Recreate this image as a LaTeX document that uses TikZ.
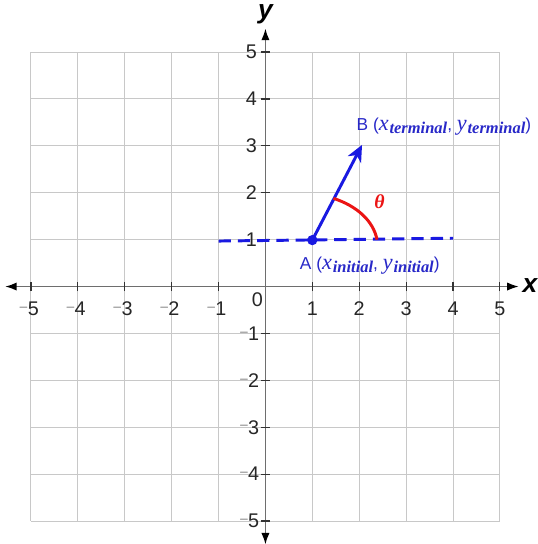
\documentclass[tikz,border=0pt]{standalone}
\usepackage{fontspec}
\setmainfont{Liberation Sans}
\newfontfamily\mathserif{Liberation Serif}
\usetikzlibrary{arrows.meta}
\definecolor{gridgray}{RGB}{200,200,200}
\definecolor{axisgray}{RGB}{110,110,110}
\definecolor{vecblue}{RGB}{25,25,225}
\definecolor{lblblue}{RGB}{40,40,200}
\definecolor{angred}{RGB}{235,20,20}
\tikzset{
  gridline/.style={gridgray, line width=0.6pt},
  axisline/.style={axisgray, line width=0.9pt, {Latex[length=7pt,width=5pt,black]}-{Latex[length=7pt,width=5pt,black]}},
  ticklbl/.style={font=\fontsize{12}{12}\selectfont, text=black!85, inner sep=1pt},
  vecline/.style={vecblue, line width=1.8pt},
  ptlbl/.style={font=\fontsize{10.5}{10.5}\selectfont, text=lblblue, inner sep=0pt, anchor=west},
}
\newcommand{\neglbl}[1]{\raisebox{0.5ex}{\fontsize{7}{7}\selectfont\ensuremath{-}}\kern-0.05em#1}
\newcommand{\vsub}[2]{{\mathserif\itshape\fontsize{13.5}{13.5}\selectfont #1}\kern0.05em{\mathserif\bfseries\itshape\fontsize{10}{10}\selectfont\raisebox{-0.35ex}{#2}}}
\begin{document}
\begin{tikzpicture}
\useasboundingbox (-5.66,-5.49) rectangle (5.81,6.11);
% grid
\foreach \i in {-5,...,5} {
  \draw[gridline] (\i,-5) -- (\i,5);
  \draw[gridline] (-5,\i) -- (5,\i);
}
% axes
\coordinate (xl) at (-5.55,0);
\coordinate (xr) at (5.4,0);
\coordinate (yb) at (0,-5.5);
\coordinate (yt) at (0,5.5);
\draw[axisline] (xl) -- (xr);
\draw[axisline] (yb) -- (yt);
\node[font=\bfseries\itshape\fontsize{16}{16}\selectfont] (xlab) at (5.64,0.02) {x};
\node[font=\bfseries\itshape\fontsize{16}{16}\selectfont] (ylab) at (0,5.8) {y};
% ticks and labels
\foreach \i in {1,...,5} {
  \draw[black!80, line width=0.7pt] (\i,-0.1) -- (\i,0.1);
  \draw[black!80, line width=0.7pt] (-\i,-0.1) -- (-\i,0.1);
  \draw[black!80, line width=0.7pt] (-0.1,\i) -- (0.1,\i);
  \draw[black!80, line width=0.7pt] (-0.1,-\i) -- (0.1,-\i);
  \node[ticklbl] at (\i,-0.47) {\i};
  \node[ticklbl] at (-\i-0.05,-0.47) {\neglbl{\i}};
  \node[ticklbl] at (-0.3,\i) {\i};
  \node[ticklbl] at (-0.35,-\i) {\neglbl{\i}};
}
\node[ticklbl] (zero) at (-0.17,-0.27) {0};
% dashed line
\coordinate (dl) at (-1,0.97);
\coordinate (dr) at (4,1.03);
\draw[vecline, dash pattern=on 7.5pt off 4.2pt] (dl) -- (dr);
% vector
\coordinate (A) at (1,0.99);
\coordinate (B) at (2.06,3.02);
\draw[vecline, -{Stealth[length=10pt,width=9pt,inset=3pt]}] (A) -- (B);
\fill[vecblue] (A) circle (0.11);
% angle arc
\coordinate (a1) at (1.45,1.88);
\coordinate (a2) at (2.38,1.0);
\draw[angred, line width=1.8pt] (a1) .. controls (1.95,1.72) and (2.3,1.4) .. (a2);
\node[text=angred, font=\mathserif\bfseries\itshape\fontsize{12}{12}\selectfont] (theta) at (2.43,1.8) {θ};
% labels
\node[ptlbl] (Blab) at (1.94,3.4) {B (\vsub{x}{terminal}, \vsub{y}{terminal})};
\node[ptlbl] (Alab) at (0.73,0.44) {A (\vsub{x}{initial}, \vsub{y}{initial})};
\end{tikzpicture}
\end{document}
